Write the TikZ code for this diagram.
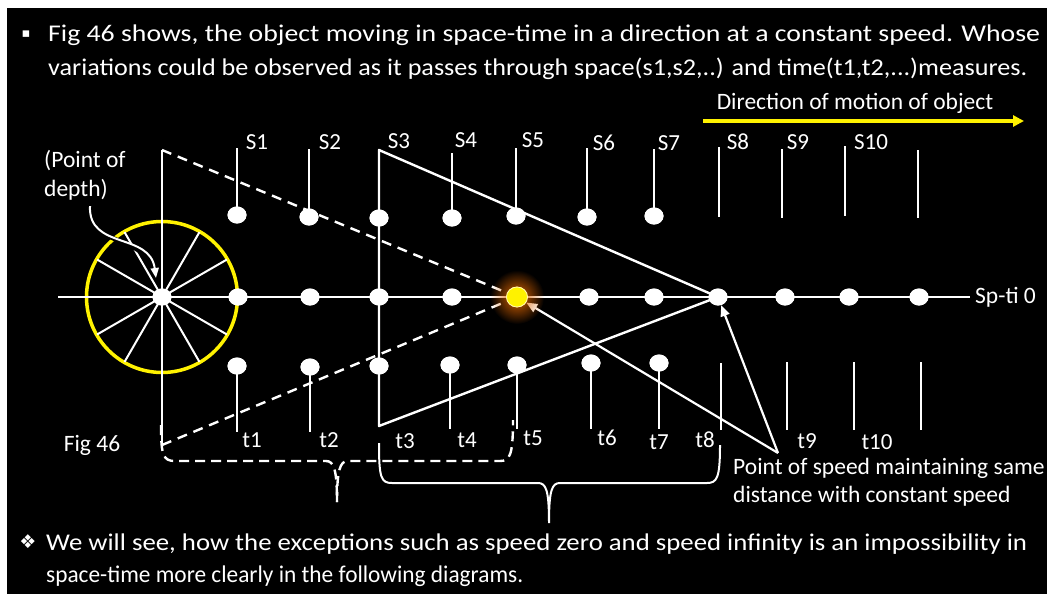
\documentclass[tikz,border=0pt]{standalone}
\usepackage{fontspec}
\usepackage{graphicx}
\setmainfont{Carlito}
\newfontfamily\dejavu{DejaVu Sans}
\usetikzlibrary{arrows.meta,shapes.geometric,fadings}
\definecolor{glow}{RGB}{220,100,0}
\tikzfading[name=glowfade, inner color=transparent!0, outer color=transparent!100]
\begin{document}
\begin{tikzpicture}[x=1pt,y=-1pt,
  wl/.style={white, line width=2.4pt},
  dot/.style={ellipse, fill=white, draw=none, minimum width=19pt, minimum height=17pt, inner sep=0pt},
  lbl/.style={text=white, font=\fontsize{23}{27}\selectfont, inner sep=0pt},
  txt/.style={text=white, font=\fontsize{23.5}{28}\selectfont, inner sep=0pt},
  big/.style={text=white, font=\fontsize{24}{28}\selectfont, inner sep=0pt},
  dsh/.style={white, line width=2.4pt, dash pattern=on 10pt off 7pt},
  arr/.style={white, line width=2.2pt, -{Triangle[length=11pt,width=9pt]}},
]
% background
\fill[white] (0,0) rectangle (1047,594);
\fill[black] (7,8) rectangle (1047,594);
\useasboundingbox (0,0) rectangle (1047,594);

% top text
\node[text=white, font=\dejavu\fontsize{13}{13}\selectfont, inner sep=0pt] (b1) at (26,34) {▪};
\node[big, anchor=base west] (l1) at (48,42) {\resizebox{992pt}{\height}{Fig 46 shows, the object moving in space-time in a direction at a constant speed. Whose}};
\node[big, anchor=base west] (l2) at (48,76) {\resizebox{979pt}{\height}{variations could be observed as it passes through space(s1,s2,..) and time(t1,t2,...)measures.}};

% direction arrow
\coordinate (da) at (703,121);
\coordinate (db) at (1024,121);
\draw[yellow, line width=4pt, -{Triangle[length=11pt,width=11pt]}] (da) -- (db);
\node[txt] (dir) at (855,103) {Direction of motion of object};

% wheel
\coordinate (c0) at (162,297);
\draw[yellow, line width=3.5pt] (c0) circle (75.5);
\foreach \a in {30,60,120,150,210,240,300,330}
  \draw[white, line width=2pt] (c0) -- ++(\a:75);

% axis
\coordinate (axL) at (58,297);
\coordinate (axR) at (970,297);
\draw[wl] (axL) -- (axR);
\node[txt, anchor=west] (spti) at (975,297) {Sp-ti 0};

% dots on axis (named)
\node[dot] (a0) at (162,297) {};
\foreach \n/\x in {1/238,2/310,3/379,4/452,6/589,7/654,8/718,9/785,10/849,11/919}
  \node[dot] (a\n) at (\x,297) {};
\node[ellipse, fill=yellow, draw=white!70!yellow, line width=0.8pt, minimum width=21pt, minimum height=20pt, inner sep=0pt] (yd) at (517,297) {};

% vertical line through wheel and dashed lines
\coordinate (vt) at (162,150);
\coordinate (vb) at (162,445);
\draw[wl] (vt) -- (vb);
\draw[dsh] (vt) -- (yd);
\draw[dsh] (vb) -- (yd);

% upper S lines with dots
\foreach \n/\x/\t/\b in {1/237/148/215,2/309/149/217,4/452/153/218,5/516/148/216,6/587/148/217,7/654/149/216}{
  \coordinate (st\n) at (\x,\t);
  \node[dot] (u\n) at (\x,\b) {};
  \draw[wl] (st\n) -- (u\n.center);
}
\node[dot] (u3) at (379,218) {};
\foreach \n/\x/\t/\b in {8/719/147/217,9/782/149/218,10/845/146/216,11/918/150/218}{
  \coordinate (st\n) at (\x,\t);
  \coordinate (sb\n) at (\x,\b);
  \draw[wl] (st\n) -- (sb\n);
}

% lower t lines with dots
\foreach \n/\x/\t/\b in {1/237/366/432,2/310/367/432,4/450/365/429,5/517/365/429,6/591/363/429,7/659/363/429}{
  \coordinate (tb\n) at (\x,\b);
  \node[dot] (d\n) at (\x,\t) {};
  \draw[wl] (d\n.center) -- (tb\n);
}
\node[dot] (d3) at (379,366) {};
\foreach \n/\x/\t/\b in {8/721/363/430,9/787/362/430,10/854/362/430,11/921/362/430}{
  \coordinate (tt\n) at (\x,\t);
  \coordinate (tb\n) at (\x,\b);
  \draw[wl] (tt\n) -- (tb\n);
}

% triangle
\coordinate (trt) at (379,150);
\coordinate (trb) at (379,426);
\draw[wl, line join=round] (a8.center) -- (trt) -- (trb) -- (a8.center);

% redraw dots over lines
\foreach \n/\x in {1/238,2/310,3/379,4/452,6/589,7/654,8/718,9/785,10/849,11/919}
  \node[dot] at (\x,297) {};
\node[dot] at (162,297) {};
\node[dot] at (379,218) {};
\node[dot] at (379,366) {};
\foreach \n/\x/\b in {1/237/215,2/309/217,4/452/218,5/516/216,6/587/217,7/654/216}
  \node[dot] at (\x,\b) {};
\foreach \n/\x/\t in {1/237/366,2/310/367,4/450/365,5/517/365,6/591/363,7/659/363}
  \node[dot] at (\x,\t) {};

% S labels
\foreach \n/\x/\y in {1/257/142,2/330/142,3/399/141,4/466/140,5/533/140,6/604/143,7/669/143,8/738/142,9/798/142,10/871/142}
  \node[lbl] (sl\n) at (\x,\y) {S\n};
% t labels
\foreach \n/\x/\y in {1/252/440,2/329/440,3/405/441,4/467/440,5/533/438,6/607/438,7/659/442,8/705/440,9/807/441,10/877/442}
  \node[lbl] (tl\n) at (\x,\y) {t\n};

% arrows from point of speed
\coordinate (pp) at (778,453);
\draw[arr] (pp) -- (yd);
\draw[arr] (pp) -- (a8);

% glow and yellow dot
\fill[glow, path fading=glowfade] (517,297) circle (27);
\node[ellipse, fill=yellow, draw=white!70!yellow, line width=0.8pt, minimum width=21pt, minimum height=20pt, inner sep=0pt] at (517,297) {};

% point of depth
\node[txt, anchor=west] (pd1) at (44,161) {(Point of};
\node[txt, anchor=west] (pd2) at (44,190) {depth)};
\coordinate (pa) at (90,206);
\coordinate (pb) at (156,278);
\draw[black, line width=4.5pt] (pa) .. controls (88,250) and (150,232) .. (pb);
\draw[white, line width=2pt, -{Triangle[length=10pt,width=8pt]}] (pa) .. controls (88,250) and (150,232) .. (pb);

\node[txt] (fig) at (92,445) {Fig 46};
\node[txt, anchor=west] (ps1) at (733,468) {Point of speed maintaining same};
\node[txt, anchor=west] (ps2) at (733,496) {distance with constant speed};

% dashed brace
\coordinate (db1) at (161,425);
\coordinate (db2) at (337,502);
\coordinate (db3) at (513,420);
\draw[dsh, dash pattern=on 10pt off 6pt] (db1) .. controls (161,455) and (163,461) .. (175,461) -- (326,461) .. controls (334,461) and (337,470) .. (db2);
\draw[dsh, dash pattern=on 10pt off 6pt] (db2) .. controls (337,470) and (340,461) .. (348,461) -- (500,461) .. controls (510,461) and (513,455) .. (db3);

% solid brace
\coordinate (sb1) at (379,443);
\coordinate (sbm) at (549,523);
\coordinate (sb2) at (720,445);
\draw[white, line width=2pt] (sb1) .. controls (379,478) and (381,483) .. (392,483) -- (538,483) .. controls (546,483) and (549,490) .. (sbm) .. controls (549,490) and (552,483) .. (560,483) -- (707,483) .. controls (717,483) and (720,478) .. (sb2);

% bottom text
\node[text=white, font=\dejavu\fontsize{19}{19}\selectfont, inner sep=0pt] (b2) at (28,542) {❖};
\node[big, anchor=base west] (m1) at (46,550) {\resizebox{981pt}{\height}{We will see, how the exceptions such as speed zero and speed infinity is an impossibility in}};
\node[big, anchor=base west] (m2) at (46,582) {\resizebox{477pt}{\height}{space-time more clearly in the following diagrams.}};
\end{tikzpicture}
\end{document}
